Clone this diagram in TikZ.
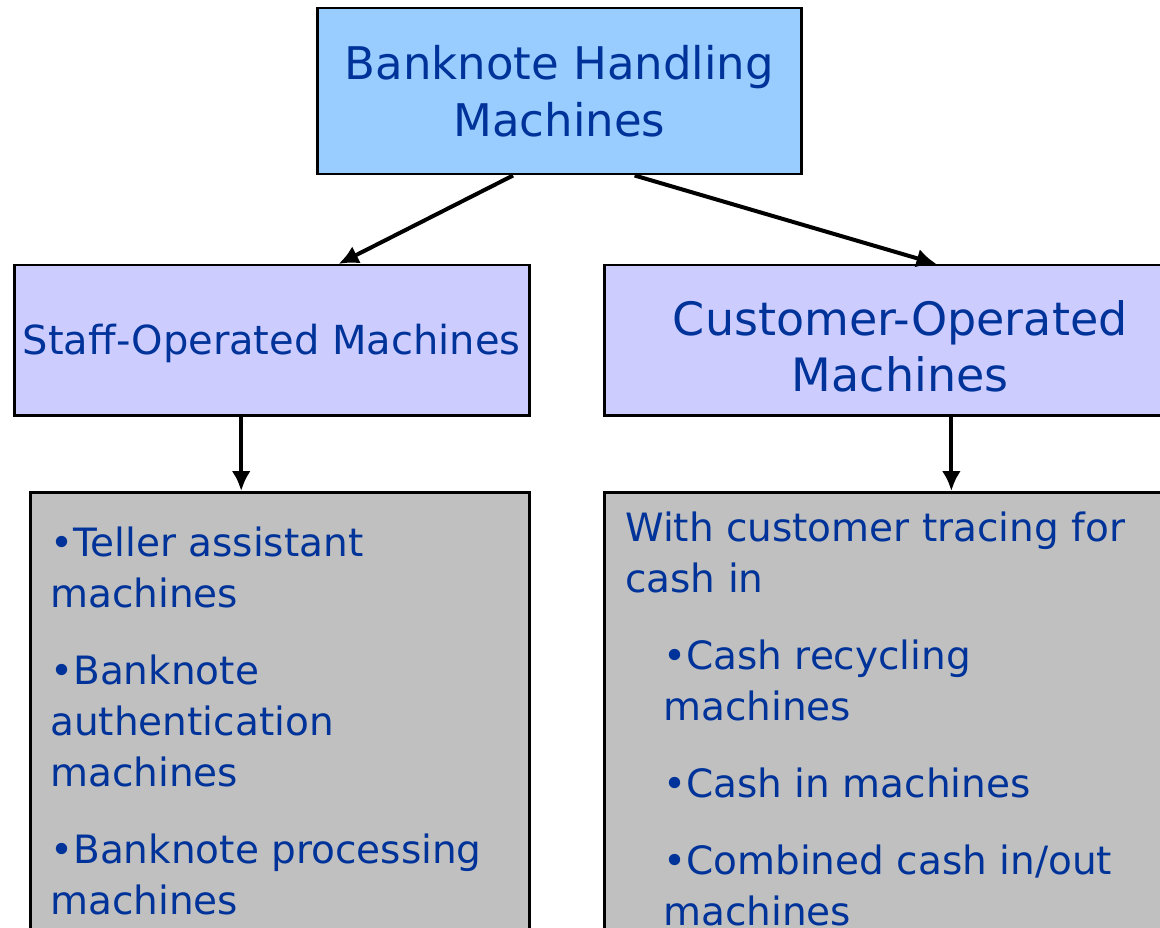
\documentclass[tikz,border=0pt]{standalone}
\usepackage{fontspec}
\setmainfont{DejaVu Sans}
\usetikzlibrary{positioning,arrows.meta,calc}

\definecolor{headblue}{RGB}{153,204,255}
\definecolor{groupblue}{RGB}{204,204,255}
\definecolor{listgrey}{RGB}{192,192,192}
\definecolor{textblue}{RGB}{0,51,153}

\begin{document}
\begin{tikzpicture}[
  x=1pt, y=-1pt,
  box/.style={draw, line width=2.5pt, inner sep=0pt, align=center,
    text=textblue, anchor=north west},
  head/.style={box, fill=headblue, minimum width=484pt, minimum height=166pt,
    font=\fontsize{45}{57}\selectfont},
  group/.style={box, fill=groupblue, minimum height=150pt},
  list/.style={box, fill=listgrey, align=left, inner xsep=20pt,
    font=\fontsize{39}{51}\selectfont},
  link/.style={line width=4pt, -{Latex[length=20pt,width=19pt]}}
]
\useasboundingbox (0,0) rectangle (1160,928);
\clip (0,0) rectangle (1160,928);

\node[head] (head) at (316,7) {Banknote Handling\\Machines};

\node[group, minimum width=515pt, font=\fontsize{40}{51}\selectfont]
  (staff) at (13,264) {\rule{0pt}{36pt}Staff-Operated Machines};
\node[group, minimum width=592pt, font=\fontsize{46}{56}\selectfont]
  (cust) at (603,264) {\rule{0pt}{48pt}Customer-Operated\\Machines};

% lists of machine types, running off the page
\node[list, inner ysep=35pt] (stafflist) at (29,491) {%
  \parbox[c][460pt][t]{459pt}{\raggedright\parskip=26pt
  •Teller assistant\\machines\par
  •Banknote\\authentication\\machines\par
  •Banknote processing\\machines}};
\node[list, inner xsep=21pt, inner ysep=20pt] (custlist) at (603,491) {%
  \parbox[c][460pt][t]{550pt}{\raggedright\parskip=26pt
  With customer tracing for\\cash in\par
  {\leftskip=38pt
  •Cash recycling\\machines\par
  •Cash in machines\par
  •Combined cash in/out\\machines\par}}};

\draw[link] ($(head.south west)!0.405!(head.south east)$)
  -- ($(staff.north west)!0.629!(staff.north east)$);
\draw[link] ($(head.south west)!0.655!(head.south east)$)
  -- ($(cust.north west)!0.561!(cust.north east)$);

\draw[link] ($(staff.south west)!0.441!(staff.south east)$) coordinate (sdrop)
  -- (sdrop |- stafflist.north);
\draw[link] ($(cust.south west)!0.586!(cust.south east)$) coordinate (cdrop)
  -- (cdrop |- custlist.north);
\end{tikzpicture}
\end{document}
